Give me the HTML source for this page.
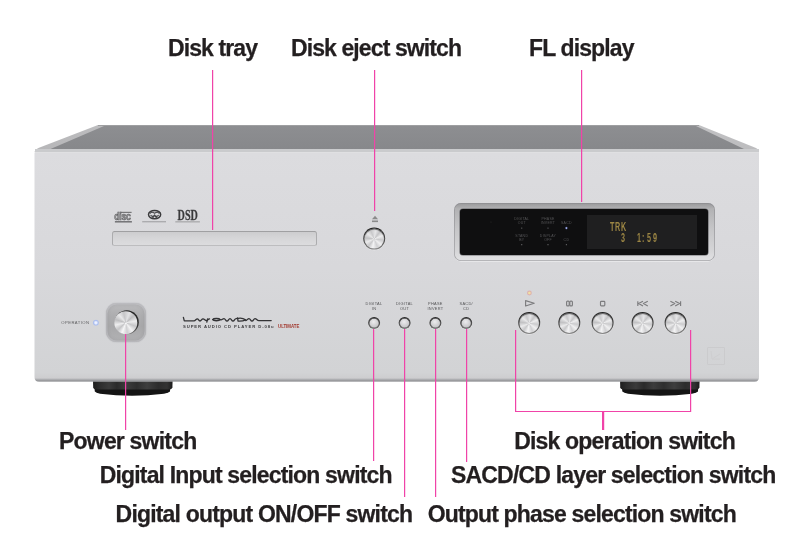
<!DOCTYPE html>
<html><head><meta charset="utf-8"><style>
html,body{margin:0;padding:0;width:800px;height:544px;background:#fff;overflow:hidden;position:relative;font-family:"Liberation Sans",sans-serif}
.a{position:absolute}
.lbl{position:absolute;font-weight:bold;font-size:23px;line-height:23px;color:#231f20;white-space:nowrap;letter-spacing:-0.87px;-webkit-text-stroke:0.25px #231f20}
.pl{position:absolute;background:#f043a8;box-shadow:0.6px 0 0 rgba(240,67,168,.35)}
.ph{position:absolute;background:#f043a8;height:1px}
.btn{position:absolute;border-radius:50%;box-sizing:border-box;
 background:linear-gradient(180deg,#1e1e1e 0%,#333 30%,#5a5a5a 70%,#8a8a8a 100%);
 box-shadow:0 0.6px 0.6px rgba(255,255,255,.7)}
.btn::after{content:"";position:absolute;left:1px;right:1px;top:1px;bottom:1px;border-radius:50%;
 box-shadow:inset 0 1px 0.8px rgba(0,0,0,.55);
 background:conic-gradient(from 10deg at 50% 52%,#e6e6e8,#c4c4c6 8%,#eeeeef 16%,#cbcbcd 24%,#f0f0f1 33%,#d0d0d2 41%,#f4f4f5 50%,#c8c8ca 58%,#ebebec 66%,#c2c2c4 74%,#e9e9ea 83%,#c9c9cb 91%,#e6e6e8)}
.btn.sm{background:linear-gradient(#262626,#4a4a4a 60%,#7a7a7a)}
.btn.sm::after{box-shadow:inset 0 0 0 0.4px rgba(0,0,0,.45),inset 0 0.7px 0.5px rgba(0,0,0,.45);background:radial-gradient(circle at 45% 38%,#ececee 0,#d2d2d4 45%,#b6b6b8 100%)}
.fl{position:absolute;transform:scaleX(0.6);transform-origin:0 0;font-weight:bold}
.tiny{position:absolute;font-size:4px;line-height:4.5px;color:#555;text-align:center;white-space:nowrap;letter-spacing:0.1px}
</style></head><body>
<div id="root" style="position:absolute;left:0;top:0;width:800px;height:544px;will-change:transform">

<!-- chassis -->
<svg class="a" style="left:0;top:0" width="800" height="544" viewBox="0 0 800 544">
  <defs>
    <linearGradient id="topg" x1="0" y1="0" x2="0" y2="1">
      <stop offset="0" stop-color="#8d8e91"/>
      <stop offset="1" stop-color="#87888b"/>
    </linearGradient>
    <linearGradient id="frontg" x1="0" y1="0" x2="0" y2="1">
      <stop offset="0" stop-color="#dcdcdf"/>
      <stop offset="0.5" stop-color="#d8d8db"/>
      <stop offset="0.96" stop-color="#d2d3d5"/>
      <stop offset="0.984" stop-color="#cdcdcf"/>
      <stop offset="0.989" stop-color="#b3b4b7"/>
      <stop offset="0.995" stop-color="#9a9b9e"/>
      <stop offset="1" stop-color="#9fa0a3"/>
    </linearGradient>
    <linearGradient id="chamL" x1="0" y1="1" x2="1" y2="0">
      <stop offset="0" stop-color="#b6b6b8"/>
      <stop offset="1" stop-color="#c2c2c4"/>
    </linearGradient>
    <linearGradient id="footg" x1="0" y1="0" x2="1" y2="0">
      <stop offset="0" stop-color="#1e1e1e"/>
      <stop offset="0.08" stop-color="#2c2c2c"/>
      <stop offset="0.2" stop-color="#3a3a3a"/>
      <stop offset="0.3" stop-color="#2a2a2a"/>
      <stop offset="0.42" stop-color="#3c3c3c"/>
      <stop offset="0.55" stop-color="#2e2e2e"/>
      <stop offset="0.68" stop-color="#3e3e3e"/>
      <stop offset="0.82" stop-color="#2c2c2c"/>
      <stop offset="0.93" stop-color="#333"/>
      <stop offset="1" stop-color="#1c1c1c"/>
    </linearGradient>
  </defs>
  <!-- top surface -->
  <path d="M34.5,152 L35.5,150 Q37,148.6 39,147.8 L98,125 L699,125 L756,148 Q758.6,149.2 759,152 Z" fill="url(#chamL)"/>
  <polygon points="50.5,149 104,126 696,126 744,149" fill="url(#topg)"/>
  <rect x="98" y="125" width="601" height="1" fill="#9e9fa1"/>
  <rect x="35" y="149" width="724" height="3.5" fill="#cacbcd"/>
  <!-- feet -->
  <path d="M94.5,388 L170.2,388 L170,391.6 Q168.5,393 164,393.8 Q132,397.5 100,393.8 Q96,393 94.8,391.6 Z" fill="#141414"/>
  <path d="M93,380.5 L172.6,380.5 L172.4,387.6 Q172,389.2 170,389.4 L95.5,389.4 Q93.4,389.2 93.2,387.6 Z" fill="url(#footg)"/>
  <path d="M622,388 L698.2,388 L698,391.6 Q696.5,393 692,393.8 Q660,397.5 628,393.8 Q624,393 622.3,391.6 Z" fill="#141414"/>
  <path d="M620.1,380.5 L699.6,380.5 L699.4,387.6 Q699,389.2 697,389.4 L622.5,389.4 Q620.4,389.2 620.2,387.6 Z" fill="url(#footg)"/>
  <!-- front panel -->
  <path d="M34.5,152.5 L759,152.5 L759,377 Q759,381.7 754.5,381.7 L39,381.7 Q34.5,381.7 34.5,377 Z" fill="url(#frontg)"/>
</svg>

<!-- tray slot -->
<div class="a" style="left:112.4px;top:230.6px;width:204.7px;height:15.2px;box-sizing:border-box;border-radius:2.5px;border:1px solid #acacae;border-top-color:#a0a0a2;border-bottom-color:#bdbdbf;background:linear-gradient(#cdcdcf,#d6d6d8 50%,#dcdcde)"></div>

<!-- eject -->
<svg class="a" style="left:371px;top:215px" width="8" height="8" viewBox="0 0 8 8"><path d="M4,0.8 L7,4.3 L1,4.3Z" fill="#8a8a8a"/><rect x="1" y="5.5" width="6" height="1.6" fill="#8a8a8a"/></svg>
<div class="btn" style="left:363px;top:227px;width:22px;height:22px;transform:translate(0.2px,0.6px)"></div>

<!-- power -->
<div class="a" style="left:105.8px;top:302.8px;width:40.2px;height:39.6px;border-radius:11px;background:linear-gradient(180deg,#bcbcbe 0%,#aeaeb0 30%,#a8a8aa 60%,#b2b2b4 100%);box-shadow:0 0 1.2px rgba(90,90,95,.45),inset 0 0 0 1.5px rgba(205,205,208,.45),inset 0 0 3px 2px rgba(120,120,125,.2)"></div>
<div class="a" style="left:114px;top:310px;width:24px;height:24px;transform:translate(0.8px,0.2px);border-radius:50%;background:linear-gradient(210deg,#1c1c1c,#3a3a3a 45%,#808080 85%)"></div>
<div class="a" style="left:114px;top:311px;width:23px;height:23px;transform:translate(0.3px,0.2px);border-radius:50%;background:conic-gradient(from 20deg at 50% 50%,#e2e2e4,#bdbdbf 8%,#ececed 17%,#c6c6c8 25%,#f3f3f4 34%,#cfcfd1 42%,#f7f7f8 50%,#c4c4c6 58%,#eeeeef 66%,#bebec0 74%,#e9e9ea 83%,#c6c6c8 91%,#e2e2e4)"></div>

<!-- small buttons -->
<div class="btn sm" style="left:368px;top:317px;width:12px;height:12px;transform:translate(0.1px,0.0px)"></div>
<div class="btn sm" style="left:398px;top:317px;width:12px;height:12px;transform:translate(0.6px,0.0px)"></div>
<div class="btn sm" style="left:429px;top:317px;width:12px;height:12px;transform:translate(0.4px,0.0px)"></div>
<div class="btn sm" style="left:460px;top:317px;width:12px;height:12px;transform:translate(0.2px,0.0px)"></div>

<!-- big buttons -->
<div class="btn" style="left:518px;top:311px;width:22px;height:22px;transform:translate(0.2px,0.9px)"></div>
<div class="btn" style="left:558px;top:311px;width:22px;height:22px;transform:translate(0.3px,0.9px)"></div>
<div class="btn" style="left:591px;top:311px;width:22px;height:22px;transform:translate(0.6px,0.9px)"></div>
<div class="btn" style="left:631px;top:311px;width:22px;height:22px;transform:translate(0.6px,0.9px)"></div>
<div class="btn" style="left:664px;top:311px;width:22px;height:22px;transform:translate(0.6px,0.9px)"></div>

<!-- FL display -->
<div class="a" style="left:453.6px;top:203px;width:261.2px;height:58.4px;border-radius:7px;background:linear-gradient(180deg,#98989a 0%,#b2b2b4 10%,#c6c6c8 45%,#d4d4d6 80%,#e2e2e4 100%);box-shadow:inset 0 0 0 0.8px rgba(135,135,140,.65),0 0.5px 0.5px rgba(255,255,255,.8)"></div>
<div class="a" style="left:459.8px;top:209.2px;width:248.2px;height:45.8px;border-radius:3px;background:#0f0f10;box-shadow:0 0 0 0.6px rgba(80,80,85,.8)"></div>
<div class="a" style="left:586.7px;top:215.2px;width:110.2px;height:33.6px;background:#1f1f20"></div>
<!-- disc logos -->
<svg class="a" style="left:110px;top:207px" width="95" height="19" viewBox="110 207 95 19">
  <rect x="120.3" y="211.8" width="11.3" height="1.2" fill="#5e5e60" opacity=".8"/>
  <text x="0" y="0" transform="translate(114.2,219.9) scale(0.86,1)" font-family="Liberation Sans" font-weight="bold" font-size="10.2" letter-spacing="-0.3" fill="#a2a2a4" stroke="#5a5a5c" stroke-width="0.55">disc</text>
  <rect x="114.9" y="221.1" width="17" height="1.4" fill="#58585a" opacity=".85"/>
  <ellipse cx="154.6" cy="214.6" rx="6.1" ry="4.2" fill="none" stroke="#3a3a3c" stroke-width="1.45"/>
  <path d="M149.8,213.6 Q151.4,211.2 154.6,213.2 Q157.8,211.2 159.4,213.6 M150.6,215.2 Q152.6,217.6 154.6,215 Q156.6,217.6 158.6,215.2 M152.4,218.2 L154.6,215.4 L156.8,218.2" fill="none" stroke="#454547" stroke-width="1.1"/>
  <rect x="142.2" y="221.2" width="23.8" height="1.1" fill="#6a6a6c" opacity=".5"/>
  <text x="0" y="0" transform="translate(177.6,219.7) scale(0.705,1)" font-family="Liberation Serif" font-weight="bold" font-size="14.4" fill="#3a3a3c" stroke="#3a3a3c" stroke-width="0.25">DSD</text>
  <rect x="175.3" y="221.3" width="24.6" height="1.1" fill="#6a6a6c" opacity=".5"/>
</svg>

<!-- operation label + led -->
<div class="tiny" style="left:61.3px;top:321px;font-size:4.2px;line-height:4.5px;letter-spacing:0.42px;color:#5e5e60">OPERATION</div>
<div class="a" style="left:93px;top:320px;width:6px;height:6px;transform:translate(-0.1px,-0.25px);border-radius:50%;background:radial-gradient(circle,#f4f7ff 0,#e6ecff 25%,#aabef0 55%,rgba(150,170,230,.35) 80%,rgba(150,170,230,0) 100%)"></div>

<!-- luxman logo -->
<svg class="a" style="left:180px;top:314px" width="96" height="10" viewBox="180 314 96 10">
  <g fill="none" stroke="#333335" stroke-width="1.3" stroke-linecap="round" stroke-linejoin="round">
  <path d="M183.4,317.4 L184.3,320.8 L194,320.8 C195.5,320.8 196,318.8 197.3,318.8 C198.6,318.8 198.6,321 200,321 C201.4,321 201.6,318.8 203,318.8 C204.5,318.8 205,320.6 206.5,320.6 C208,320.6 208.2,318.6 209.5,318.8"/>
  <path d="M207.6,319 L206.8,322.2"/>
  <path d="M212.6,319.6 C213.4,318.1 219.4,318.1 220.2,319.6 C219.4,321.1 213.4,321.1 212.6,319.6 Z"/>
  <path d="M220.5,319.8 C222,320.6 222.5,318.6 224,318.6 C225.5,318.6 225.5,321 227,321 C228.5,321 228.5,318.6 230,318.6 C231.5,318.6 231.5,321 233,321 C234.5,321 234.5,318.6 236,318.6 L237.3,318.4"/>
  <path d="M237.6,317.8 L238,321 C241,321.2 244,320.6 245.6,319.8 C243.5,318.4 240.5,317.8 238.2,318.3"/>
  <path d="M245.6,320.6 C247,320.6 247.5,318.6 249,318.6 C250.5,318.6 250.5,321 252,321 C253.5,321 253.5,318.6 255,318.6 C256.5,318.6 257,320.6 258.8,320.6 L271.2,320.6"/>
  </g>
</svg>
<div class="tiny" style="left:183px;top:324.6px;font-size:3.9px;line-height:4px;letter-spacing:0.84px;color:#3c3c3e;font-weight:bold;text-align:left;transform:scaleX(1.08);transform-origin:0 0">SUPER AUDIO CD PLAYER D-08u</div>
<div class="tiny" style="left:278.1px;top:323.6px;font-size:5.5px;line-height:5px;letter-spacing:0px;color:#a2382e;font-weight:bold;text-align:left;transform:scaleX(0.79);transform-origin:0 0">ULTIMATE</div>

<!-- small button labels -->
<div class="tiny" style="left:364px;top:301px;width:20px;font-size:3.9px;line-height:5.3px;letter-spacing:0.3px;color:#555557">DIGITAL<br>IN</div>
<div class="tiny" style="left:394.6px;top:301px;width:20px;font-size:3.9px;line-height:5.3px;letter-spacing:0.3px;color:#555557">DIGITAL<br>OUT</div>
<div class="tiny" style="left:425.4px;top:301px;width:20px;font-size:3.9px;line-height:5.3px;letter-spacing:0.3px;color:#555557">PHASE<br>INVERT</div>
<div class="tiny" style="left:456.2px;top:301px;width:20px;font-size:3.9px;line-height:5.3px;letter-spacing:0.3px;color:#555557">SACD/<br>CD</div>

<!-- transport icons -->
<svg class="a" style="left:520px;top:288px" width="170" height="22" viewBox="520 288 170 22">
  <circle cx="529.4" cy="293" r="2.4" fill="#e39a92" opacity=".6"/>
  <circle cx="529.4" cy="293" r="1.3" fill="#f0e2a2"/>
  <g fill="none" stroke="#7c7c7e" stroke-width="1.15" stroke-linejoin="round">
    <path d="M525.6,300.6 L534.2,303.3 L525.6,306 Z"/>
    <rect x="566.6" y="301.1" width="2.6" height="4.8" rx="1"/>
    <rect x="569.8" y="301.1" width="2.6" height="4.8" rx="1"/>
    <rect x="600.5" y="301.4" width="4.3" height="4.4" rx="0.8"/>
    <path d="M637.8,301.2 L637.8,306 M643,301.2 L638.6,303.6 L643,306 M647.8,301.2 L643.4,303.6 L647.8,306"/>
    <path d="M680.6,301.2 L680.6,306 M670.4,301.2 L674.8,303.6 L670.4,306 M675.2,301.2 L679.6,303.6 L675.2,306"/>
  </g>
</svg>

<!-- corner logo -->
<div class="a" style="left:707px;top:347px;width:17.5px;height:17.5px;box-sizing:border-box;border:1px solid #cbcbcd;border-radius:1px"></div>
<svg class="a" style="left:707px;top:347px" width="18" height="18" viewBox="0 0 18 18"><path d="M4,4 L5,12 L13,7 M5,12 L13,12" fill="none" stroke="#cdcdcf" stroke-width="0.9"/></svg>

<!-- display content -->
<div class="tiny" style="left:511.75px;top:216.9px;width:20px;font-size:3.5px;line-height:4.1px;letter-spacing:0.25px;color:#555557">DIGITAL<br>OUT</div>
<div class="tiny" style="left:538px;top:216.9px;width:20px;font-size:3.5px;line-height:4.1px;letter-spacing:0.25px;color:#555557">PHASE<br>INVERT</div>
<div class="tiny" style="left:556.4px;top:221.3px;width:20px;font-size:3.5px;line-height:4.1px;letter-spacing:0.25px;color:#555557">SACD</div>
<div class="tiny" style="left:511.75px;top:233.8px;width:20px;font-size:3.5px;line-height:4.1px;letter-spacing:0.25px;color:#555557">STAND<br>BY</div>
<div class="tiny" style="left:538px;top:233.8px;width:20px;font-size:3.5px;line-height:4.1px;letter-spacing:0.25px;color:#555557">DISPLAY<br>OFF</div>
<div class="tiny" style="left:556.4px;top:237.8px;width:20px;font-size:3.5px;line-height:4.1px;letter-spacing:0.25px;color:#555557">CD</div>
<svg class="a" style="left:485px;top:218px" width="90" height="30" viewBox="485 218 90 30">
  <circle cx="491" cy="222" r="0.6" fill="#2a2a2a"/>
  <g fill="#6a6a6c">
    <circle cx="521.75" cy="228.1" r="0.65"/><circle cx="548" cy="228.1" r="0.65"/>
    <circle cx="521.75" cy="244.7" r="0.65"/><circle cx="548" cy="244.7" r="0.65"/><circle cx="566.4" cy="244.7" r="0.65"/>
  </g>
  <circle cx="566.4" cy="228.1" r="1.3" fill="#6f7fd8" opacity=".5"/>
  <circle cx="566.4" cy="228.1" r="0.8" fill="#b8c4ff"/>
</svg>
<div class="a" style="left:0;top:0;font-size:12px;line-height:12px;color:#9c8644">
<span class="fl" style="left:609.9px;top:220.7px">T</span><span class="fl" style="left:615.1px;top:220.7px">R</span><span class="fl" style="left:620.7px;top:220.7px">K</span><span class="fl" style="left:620.75px;top:231.6px">3</span><span class="fl" style="left:637.25px;top:231.6px">1</span><span class="fl" style="left:641.7px;top:231.6px">:</span><span class="fl" style="left:647.4px;top:231.6px">5</span><span class="fl" style="left:653px;top:231.6px">9</span>
</div>
<!-- labels -->
<div class="lbl" style="left:168px;top:36.5px;letter-spacing:-0.9px">Disk tray</div>
<div class="lbl" style="left:291px;top:36.5px;letter-spacing:-0.9px">Disk eject switch</div>
<div class="lbl" style="left:529px;top:36.5px">FL display</div>
<div class="lbl" style="left:59px;top:430px;letter-spacing:-0.8px">Power switch</div>
<div class="lbl" style="left:514.2px;top:430.3px;letter-spacing:-0.81px">Disk operation switch</div>
<div class="lbl" style="left:99.7px;top:464.3px;letter-spacing:-0.83px">Digital Input selection switch</div>
<div class="lbl" style="left:451px;top:464.3px;letter-spacing:-0.815px">SACD/CD layer selection switch</div>
<div class="lbl" style="left:115.6px;top:503.3px;letter-spacing:-0.815px">Digital output ON/OFF switch</div>
<div class="lbl" style="left:427.7px;top:503.3px;letter-spacing:-0.83px">Output phase selection switch</div>

<!-- pink lines -->
<div class="pl" style="left:212px;top:69.8px;width:1.2px;height:160.5px"></div>
<div class="pl" style="left:374px;top:69.8px;width:1.2px;height:141.2px"></div>
<div class="pl" style="left:581px;top:69.8px;width:1.2px;height:132.4px"></div>
<div class="pl" style="left:124.7px;top:334px;width:1.2px;height:95.6px"></div>
<div class="pl" style="left:373.3px;top:329px;width:1.2px;height:132.2px"></div>
<div class="pl" style="left:404px;top:329px;width:1.2px;height:168px"></div>
<div class="pl" style="left:434.6px;top:329px;width:1.2px;height:168px"></div>
<div class="pl" style="left:465.5px;top:329px;width:1.2px;height:133px"></div>
<div class="pl" style="left:514.6px;top:330px;width:1.3px;height:82.3px"></div>
<div class="pl" style="left:690px;top:330px;width:1.3px;height:82.3px"></div>
<div class="ph" style="left:514.6px;top:411px;width:176.7px;height:1.4px"></div>
<div class="pl" style="left:602.3px;top:411px;width:1.3px;height:18.7px"></div>

</div>
</body></html>
